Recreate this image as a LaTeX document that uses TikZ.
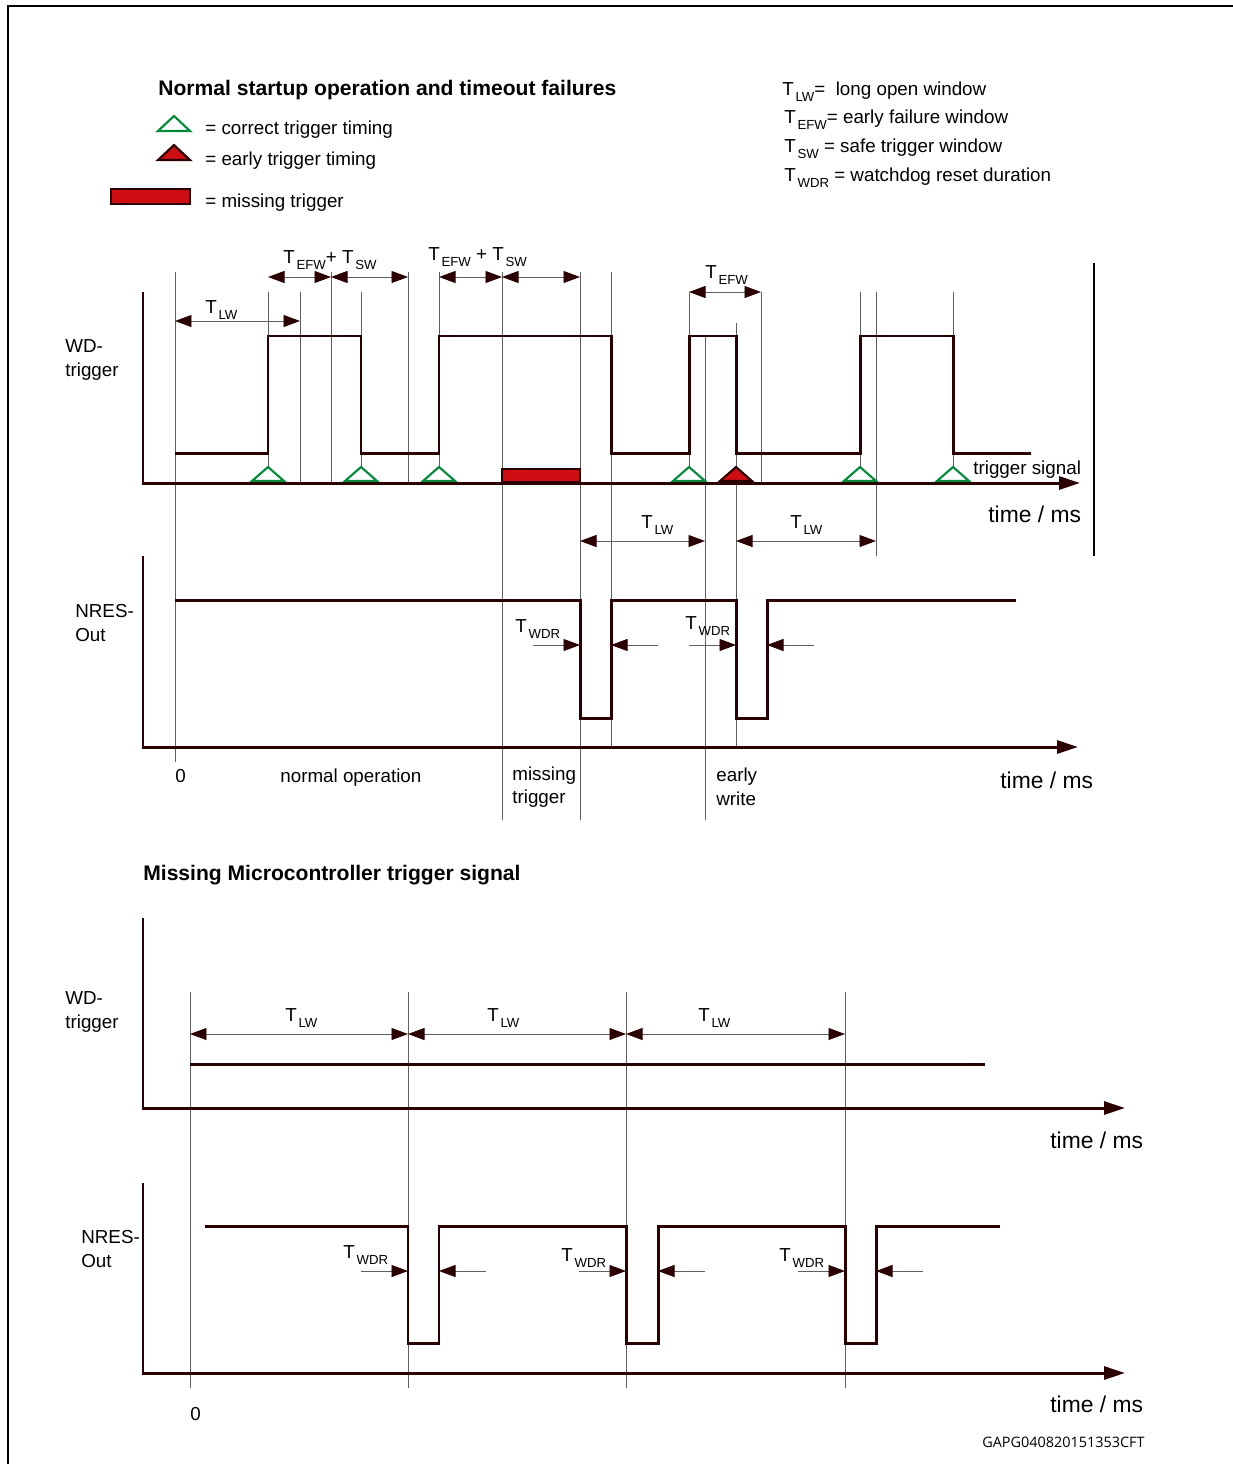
\documentclass[tikz,border=0pt]{standalone}
\usepackage{fontspec}
\setmainfont{Liberation Sans}
\newfontfamily\codefont{Open Sans}
\usetikzlibrary{arrows.meta}

\definecolor{wavecol}{RGB}{42,0,0}
\definecolor{okgreen}{RGB}{0,138,58}
\definecolor{badred}{RGB}{206,14,18}
\definecolor{guidecol}{RGB}{95,95,95}

\newcommand{\Tsub}[1]{T\kern1pt\raisebox{-0.7ex}{\fontsize{7.5}{8}\selectfont #1}}

\tikzset{
  txt/.style={inner sep=0pt, font=\fontsize{10.7}{13.5}\selectfont},
  bigtxt/.style={inner sep=0pt, font=\fontsize{13}{15}\selectfont},
  head/.style={inner sep=0pt, font=\fontsize{12}{14}\selectfont\bfseries},
  wave/.style={draw=wavecol, line width=1.7pt},
  axis/.style={draw=wavecol, line width=1.7pt, -{Triangle[length=0.42cm,width=0.26cm]}},
  guide/.style={draw=guidecol, line width=0.5pt},
  dim/.style={draw=guidecol, line width=0.5pt,
    {Triangle[length=0.33cm,width=0.24cm,color=wavecol]}-{Triangle[length=0.33cm,width=0.24cm,color=wavecol]}},
  half/.style={draw=guidecol, line width=0.5pt, -{Triangle[length=0.33cm,width=0.24cm,color=wavecol]}},
  okmark/.style={draw=okgreen, line width=1.2pt, fill=white},
  earlymark/.style={draw=wavecol, line width=1.2pt, fill=badred},
  missmark/.style={draw=wavecol, line width=1.4pt, fill=badred}
}

\begin{document}
\begin{tikzpicture}[x=0.02cm, y=-0.02cm]
        \useasboundingbox (0,0) rectangle (1233,1464);
        \draw[line width=1.1pt] (8,1464) -- (8,6) -- (1233,6);

        % Legend
        \node[head, anchor=base west] (head1) at (158,95) {Normal startup operation and timeout failures};
        \draw[okmark] (158,131) -- (174,116) -- (190,131) -- cycle;
        \draw[earlymark] (158,160) -- (174,145) -- (190,160) -- cycle;
        \draw[missmark] (111,189) rectangle (190,204);
        \node[txt, anchor=base west] (lgok) at (205,134) {= correct trigger timing};
        \node[txt, anchor=base west] (lgearly) at (205,165) {= early trigger timing};
        \node[txt, anchor=base west] (lgmiss) at (205,207) {= missing trigger};
        \node[txt, anchor=base west] (defLW) at (782,95) {\Tsub{LW}=\ \ long open window};
        \node[txt, anchor=base west] (defEFW) at (784,123) {\Tsub{EFW}= early failure window};
        \node[txt, anchor=base west] (defSW) at (784,152) {\Tsub{SW} = safe trigger window};
        \node[txt, anchor=base west] (defWDR) at (784,181) {\Tsub{WDR} = watchdog reset duration};

        % Guides
        \foreach \x/\a/\b in {175/272/762, 268/292/468, 300/292/483, 331/272/483,
            361/292/468, 408/272/483, 439/272/468, 502/272/820, 580/272/820,
            611/272/747, 689/292/468, 705/337/820, 736/323/747, 761/292/483,
            860/292/468, 876/292/556, 953/292/468,
            190/992/1388, 408/992/1388, 626/992/1388, 845/992/1388}
          \draw[guide] (\x,\a) -- (\x,\b);
        \draw[line width=0.6pt] (1094,263) -- (1094,556);

        % Axes
        \draw[axis] (143,292) -- (143,483) -- (1080,483);
        \draw[axis] (143,556) -- (143,747) -- (1078,747);
        \draw[axis] (143,918) -- (143,1108) -- (1125,1108);
        \draw[axis] (143,1183) -- (143,1373) -- (1125,1373);

        % Signals
        \draw[wave] (175,453) -| (268,336) -| (361,453) -| (439,336) -| (611,453)
          -| (689,336) -| (736,453) -| (860,336) -| (953,453) -- (1031,453);
        \draw[wave] (175,600) -| (580,718) -| (611,600) -| (736,718) -| (767,600) -- (1016,600);
        \draw[wave] (190,1064) -- (985,1064);
        \draw[wave] (205,1226) -| (408,1343) -| (439,1226) -| (626,1343) -| (658,1226)
          -| (845,1343) -| (876,1226) -- (1000,1226);

        % Trigger marks
        \foreach \x in {268,361,439,689,860,953}
          \draw[okmark] (\x-16,481) -- (\x,467) -- (\x+16,481) -- cycle;
        \draw[earlymark] (720,481) -- (736,467) -- (752,481) -- cycle;
        \draw[missmark] (502,469) rectangle (580,482);

        % Dimensions
        \coordinate (lw0) at (175,321);
        \coordinate (lw1) at (300,321);
        \coordinate (a0) at (268,277);
        \coordinate (a1) at (331,277);
        \coordinate (a2) at (408,277);
        \coordinate (b0) at (439,277);
        \coordinate (b1) at (502,277);
        \coordinate (b2) at (580,277);
        \coordinate (efw0) at (689,292);
        \coordinate (efw1) at (761,292);
        \coordinate (m0) at (580,541);
        \coordinate (m1) at (705,541);
        \coordinate (m2) at (736,541);
        \coordinate (m3) at (876,541);
        \coordinate (l0) at (190,1034);
        \coordinate (l1) at (408,1034);
        \coordinate (l2) at (626,1034);
        \coordinate (l3) at (845,1034);
        \draw[dim] (lw0) -- (lw1);
        \draw[dim] (a0) -- (a1);
        \draw[dim] (a1) -- (a2);
        \draw[dim] (b0) -- (b1);
        \draw[dim] (b1) -- (b2);
        \draw[dim] (efw0) -- (efw1);
        \draw[dim] (m0) -- (m1);
        \draw[dim] (m2) -- (m3);
        \draw[dim] (l0) -- (l1);
        \draw[dim] (l1) -- (l2);
        \draw[dim] (l2) -- (l3);
        \foreach \a/\b/\y in {580/611/645, 736/767/645, 408/439/1271, 626/658/1271, 845/876/1271} {
          \draw[half] (\a-47,\y) -- (\a,\y);
          \draw[half] (\b+47,\y) -- (\b,\y);
        }

        % Labels
        \node[txt, anchor=base west] (tLW) at (205,313) {\Tsub{LW}};
        \node[txt, anchor=base west] (tA) at (283,263) {\Tsub{EFW}+ \Tsub{SW}};
        \node[txt, anchor=base west] (tB) at (428,260) {\Tsub{EFW} + \Tsub{SW}};
        \node[txt, anchor=base west] (tEFW) at (705,278) {\Tsub{EFW}};
        \node[txt, anchor=base west] (tM1) at (641,528) {\Tsub{LW}};
        \node[txt, anchor=base west] (tM2) at (790,528) {\Tsub{LW}};
        \node[txt, anchor=base west] (tR1) at (515,632) {\Tsub{WDR}};
        \node[txt, anchor=base west] (tR2) at (685,629) {\Tsub{WDR}};
        \node[txt, anchor=base west] (tL1) at (285,1021) {\Tsub{LW}};
        \node[txt, anchor=base west] (tL2) at (487,1021) {\Tsub{LW}};
        \node[txt, anchor=base west] (tL3) at (698,1021) {\Tsub{LW}};
        \node[txt, anchor=base west] (tR3) at (343,1258) {\Tsub{WDR}};
        \node[txt, anchor=base west] (tR4) at (561,1261) {\Tsub{WDR}};
        \node[txt, anchor=base west] (tR5) at (779,1261) {\Tsub{WDR}};
        \node[txt, anchor=base west] (trig) at (973,474) {trigger signal};
        \node[bigtxt, anchor=base west] (time1) at (988,522) {time / ms};
        \node[txt, anchor=west, align=left] (wd1) at (65,360) {WD-\\trigger};
        \node[txt, anchor=west, align=left] (nres1) at (75,623) {NRES-\\Out};
        \node[txt, anchor=base west] (zero1) at (175,782) {0};
        \node[txt, anchor=base west] (normal) at (280,782) {normal operation};
        \node[txt, anchor=west, align=left] (missing) at (512,787) {missing\\trigger};
        \node[txt, anchor=west, align=left] (early) at (716,787) {early\\write};
        \node[bigtxt, anchor=base west] (time2) at (1000,788) {time / ms};
        \node[head, anchor=base west] (head2) at (143,880) {Missing Microcontroller trigger signal};
        \node[txt, anchor=west, align=left] (wd2) at (65,1012) {WD-\\trigger};
        \node[bigtxt, anchor=base west] (time3) at (1050,1148) {time / ms};
        \node[txt, anchor=west, align=left] (nres2) at (81,1249) {NRES-\\Out};
        \node[bigtxt, anchor=base west] (time4) at (1050,1412) {time / ms};
        \node[txt, anchor=base west] (zero2) at (190,1420) {0};
        \node[inner sep=0pt, anchor=base west, font=\codefont\fontsize{8.2}{9}\selectfont] (code) at (982,1447) {GAPG040820151353CFT};
\end{tikzpicture}
\end{document}
